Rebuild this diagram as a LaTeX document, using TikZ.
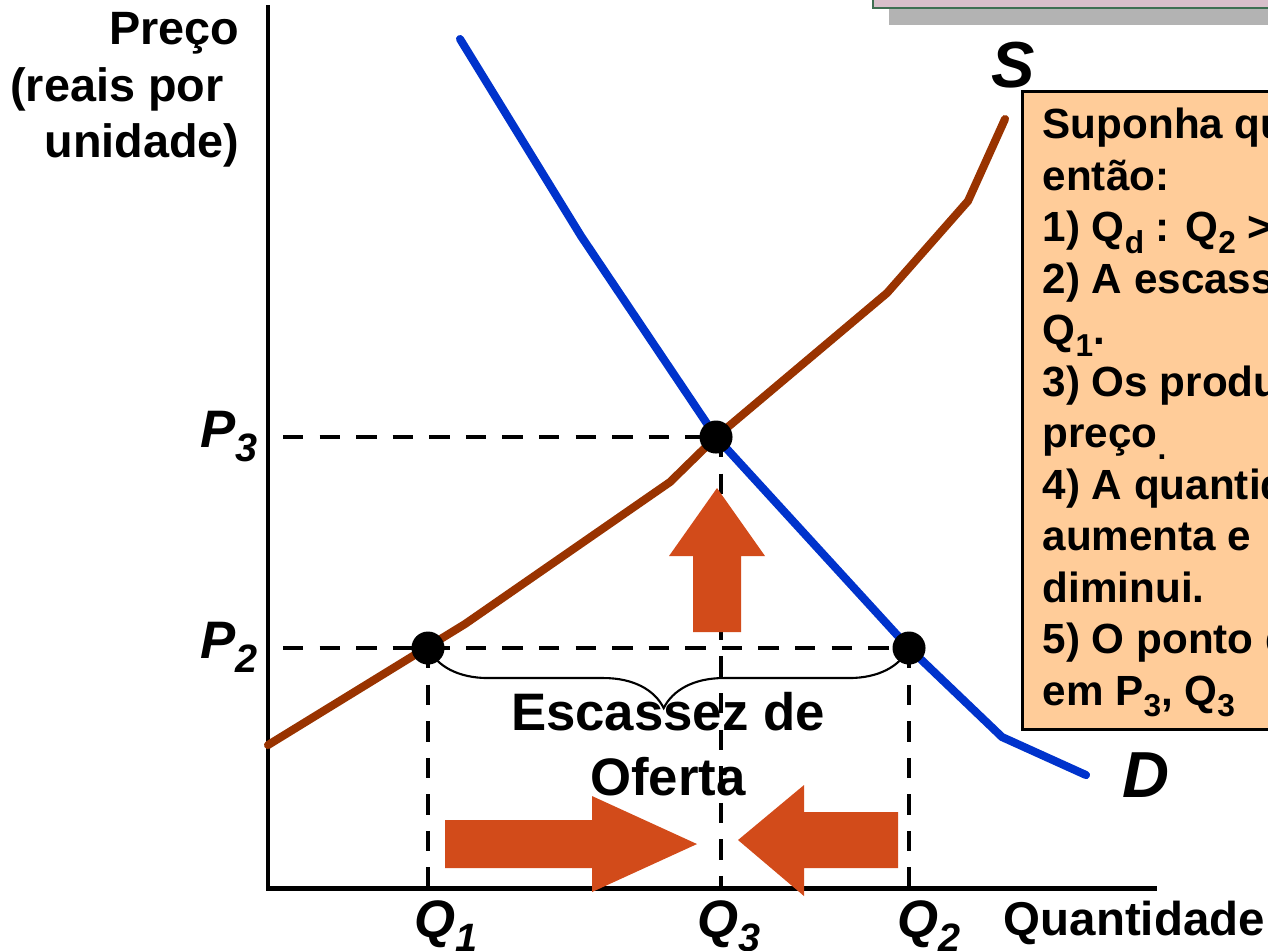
\documentclass[tikz,border=0pt]{standalone}
\usepackage{fontspec}
\setmainfont{Liberation Sans}
\usetikzlibrary{decorations.pathreplacing}

\definecolor{supplyBrown}{HTML}{993300}
\definecolor{demandBlue}{HTML}{0033CC}
\definecolor{shiftOrange}{HTML}{D24B1A}
\definecolor{noteFill}{HTML}{FFCC99}
\definecolor{titleFill}{HTML}{D8BFCA}
\definecolor{titleEdge}{HTML}{3F6F52}
\definecolor{shadowGray}{HTML}{B3B3B3}

\newcommand{\lowsub}[1]{\raisebox{-0.28em}{\scalebox{0.75}{#1}}}

\begin{document}
\begin{tikzpicture}[x=0.01cm, y=-0.01cm,
  every node/.style={inner sep=0pt, font=\bfseries},
  axis/.style={line width=1.4pt},
  supply/.style={line width=2.3pt, supplyBrown, line cap=round},
  demand/.style={line width=2.3pt, demandBlue, line cap=round},
  guide/.style={line width=1.2pt, dash pattern=on 5.8pt off 4.6pt},
  dot/.style={circle, fill=black, minimum size=0.33cm},
  blockarrow/.style={fill=shiftOrange},
  brace/.style={decorate, decoration={brace, mirror, amplitude=0.6cm, aspect=0.49}, line width=0.6pt},
  price/.style={font=\bfseries\itshape\fontsize{15}{18}\selectfont, anchor=base east},
  qty/.style={font=\bfseries\itshape\fontsize{15}{18}\selectfont, anchor=base west},
  curvename/.style={font=\bfseries\itshape\fontsize{18.5}{22}\selectfont, anchor=base west},
  note/.style={draw, line width=0.8pt, fill=noteFill, anchor=north west, minimum width=2.8cm, minimum height=6.38cm}]

\clip (0,0) rectangle (1268,950);

% title box, cut off at the top
\fill[shadowGray] (889,-20) rectangle (1300,25);
\draw[titleEdge, fill=titleFill, line width=0.7pt] (873,-20) rectangle (1300,8);

% axes
\coordinate (yTop) at (268,5);
\coordinate (origin) at (268,888);
\coordinate (xEnd) at (1157,888);
\draw[axis] (yTop) -- (origin) -- (xEnd);

% key points
\coordinate (eq) at (716,437);
\coordinate (shortS) at (428,648);
\coordinate (shortD) at (909,648);
\coordinate (p3Axis) at (283,437);
\coordinate (p2Axis) at (283,648);
\coordinate (q3Axis) at (721,888);

% labels
\node[font=\bfseries\fontsize{13.3}{16}\selectfont, align=right, anchor=north east] (priceTitle) at (240,12) {Preço\\(reais por\kern4.5pt\\unidade)};
\node[font=\bfseries\fontsize{13.5}{16}\selectfont, anchor=base west] (qtyTitle) at (1003,935) {Quantidade};
\node[price] (p3Label) at (258,447) {P\lowsub{3}};
\node[price] (p2Label) at (258,658) {P\lowsub{2}};
\node[qty] (q1Label) at (414,937) {Q\lowsub{1}};
\node[qty] (q3Label) at (697,937) {Q\lowsub{3}};
\node[qty] (q2Label) at (897,937) {Q\lowsub{2}};
\node[curvename] (supplyName) at (991,87) {S};
\node[curvename] (demandName) at (1122,797) {D};
\node[font=\bfseries\fontsize{15}{18.5}\selectfont, align=center] (shortageLabel) at (668,744) {Escassez de\\Oferta};

% dashed guides
\draw[guide] (p3Axis) -- (eq);
\draw[guide] (p2Axis) -- (shortD);
\draw[guide] (shortS) -- (shortS |- origin);
\draw[guide] (q3Axis |- eq) -- (q3Axis);
\draw[guide] (shortD) -- (shortD |- origin);

% brace under the shortage
\draw[brace] (shortS) -- (shortD);

% curves
\draw[supply] (268,745) -- (465,624) -- (670,482) -- (eq) -- (887,293) -- (968,201) -- (1005,119);
\draw[demand] (460,39) -- (581,236) -- (eq) -- (shortD) -- (1002,737) -- (1086,775);

% block arrows
\fill[blockarrow] (693,632) -- (693,556) -- (669,556) -- (717,488) -- (765,556) -- (741,556) -- (741,632) -- cycle;
\fill[blockarrow] (445,820) -- (592,820) -- (592,796) -- (697,844) -- (592,892) -- (592,868) -- (445,868) -- cycle;
\fill[blockarrow] (898,812) -- (804,812) -- (804,785) -- (738,840) -- (804,896) -- (804,868) -- (898,868) -- cycle;

% points
\node[dot] (eqDot) at (eq) {};
\node[dot] (shortSDot) at (shortS) {};
\node[dot] (shortDDot) at (shortD) {};

% note box
\node[note] (noteBox) at (1021,90) {};
\node[font=\bfseries\fontsize{12}{14.64}\selectfont, align=left, anchor=base west] (noteText) at (1042,705)
  {Suponha qu\\
   então:\\
   1) Q\lowsub{d} : Q\lowsub{2} >\\
   2) A escass\\
   Q\lowsub{1}.\\
   3) Os produ\\
   preço\lowsub{.}\\
   4) A quantid\\
   aumenta e\\
   diminui.\\
   5) O ponto d\\
   em P\lowsub{3}, Q\lowsub{3}};

\end{tikzpicture}
\end{document}
